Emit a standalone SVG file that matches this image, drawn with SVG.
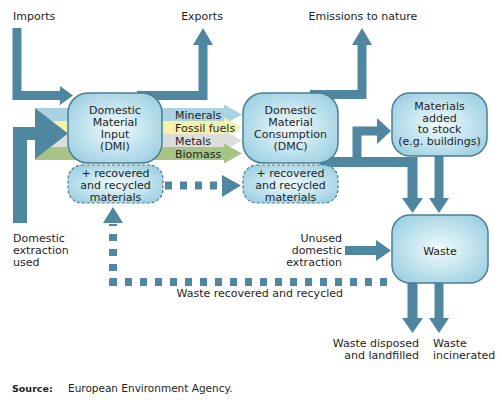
<svg xmlns="http://www.w3.org/2000/svg" width="502" height="400" viewBox="0 0 502 400">
<defs>
<radialGradient id="boxg" cx="50%" cy="50%" r="60%">
<stop offset="0" stop-color="#f2fafc"/>
<stop offset="0.55" stop-color="#c3e4ef"/>
<stop offset="1" stop-color="#9fd0e2"/>
</radialGradient>
<style>
text{font-family:"DejaVu Sans",Verdana,sans-serif;font-size:11px;fill:#1e1e1e}
.c{text-anchor:middle}
.r{text-anchor:end}
.box{fill:url(#boxg);stroke:#4a7d96;stroke-width:1.5}
.dbox{fill:url(#boxg);stroke:#4a7d96;stroke-width:1.2;stroke-dasharray:3 2}
.ar{fill:#4f87a1}
.dot{fill:none;stroke:#4f87a1;stroke-width:8;stroke-dasharray:7 8}
</style>
</defs>
<rect width="502" height="400" fill="#ffffff"/>

<g id="connectors">
<!-- material bands -->
<polygon points="35,108 224,108 224,104.5 242,114.5 224,124.5 224,121 35,121" fill="#a9d3e3"/>
<polygon points="35,121 224,121 224,117.5 242,127.5 224,137.5 224,134 35,134" fill="#f5f1a6"/>
<polygon points="35,134 224,134 224,130.5 242,140.5 224,150.5 224,147 35,147" fill="#dcdddd"/>
<polygon points="35,147 224,147 224,143.5 242,153.5 224,163.5 224,160 35,160" fill="#a8c484"/>
<!-- domestic extraction used -->
<path class="ar" d="M13,223 V127 H35 V108 L68,133.5 L35,159 V140 H27 V223 Z"/>
<!-- imports -->
<path class="ar" d="M12.5,28 H21.5 V91 H60 V86 L73,95.5 L60,105 V100 H12.5 Z"/>
<!-- exports -->
<path class="ar" d="M137,91 H198.5 V45 H193 L203,28 L213,45 H207.5 V100 H137 Z"/>
<!-- emissions -->
<path class="ar" d="M310,90 H357.5 V45 H352 L362,28 L372,45 H366.5 V99 H310 Z"/>
<!-- DMC to waste and stock -->
<path class="ar" d="M320,157 H352.5 V126.5 H377 V118 L391,131 L377,144 V135.5 H361.5 V157 H417.5 V198 H423 L412.5,213 L402,198 H407.5 V167 H320 Z"/>
<!-- stock to waste -->
<path class="ar" d="M434.5,150 H443.5 V198 H449 L439,213 L429,198 H434.5 Z"/>
<!-- unused domestic extraction -->
<path class="ar" d="M345,246 H376 V240 L391,250.5 L376,261 V255 H345 Z"/>
<!-- waste out -->
<path class="ar" d="M407.5,278 H417.5 V318 H423 L412.5,333 L402,318 H407.5 Z"/>
<path class="ar" d="M434.5,278 H443.5 V318 H449 L439,333 L429,318 H434.5 Z"/>
<!-- recycled dotted -->
<line class="dot" x1="165" y1="185.5" x2="223" y2="185.5"/>
<polygon class="ar" points="222,175 241,185.5 222,197"/>
<line class="dot" x1="110" y1="282" x2="395" y2="282"/>
<line class="dot" x1="113" y1="286" x2="113" y2="224"/>
<polygon class="ar" points="103,223 123,223 113,207"/>
</g>

<g id="dmi">
<rect class="box" x="68" y="93" width="94" height="70" rx="20"/>
<text class="c" x="115" y="114">Domestic</text>
<text class="c" x="115" y="126">Material</text>
<text class="c" x="115" y="138">Input</text>
<text class="c" x="115" y="150">(DMI)</text>
</g>
<g id="dmc">
<rect class="box" x="243" y="93" width="95" height="70" rx="20"/>
<text class="c" x="290.5" y="114">Domestic</text>
<text class="c" x="290.5" y="126">Material</text>
<text class="c" x="290.5" y="138">Consumption</text>
<text class="c" x="290.5" y="150">(DMC)</text>
</g>
<g id="stock">
<rect class="box" x="392" y="93" width="95" height="63" rx="18"/>
<text class="c" x="439.5" y="110">Materials</text>
<text class="c" x="439.5" y="121.5">added</text>
<text class="c" x="439.5" y="133">to stock</text>
<text class="c" x="439.5" y="144.5">(e.g. buildings)</text>
</g>
<g id="waste">
<rect class="box" x="392" y="215" width="96" height="68" rx="18"/>
<text class="c" x="440" y="255">Waste</text>
</g>
<g id="recycled-dmi">
<rect class="dbox" x="68" y="165" width="95" height="38" rx="14"/>
<text class="c" x="115.5" y="177">+ recovered</text>
<text class="c" x="115.5" y="189">and recycled</text>
<text class="c" x="115.5" y="200.5">materials</text>
</g>
<g id="recycled-dmc">
<rect class="dbox" x="243" y="165" width="95" height="38" rx="14"/>
<text class="c" x="290.5" y="177">+ recovered</text>
<text class="c" x="290.5" y="189">and recycled</text>
<text class="c" x="290.5" y="200.5">materials</text>
</g>

<g id="labels">
<text x="13" y="20">Imports</text>
<text class="c" x="202" y="20">Exports</text>
<text class="c" x="363" y="20">Emissions to nature</text>
<text x="175" y="119">Minerals</text>
<text x="175" y="132">Fossil fuels</text>
<text x="175" y="145">Metals</text>
<text x="175" y="158">Biomass</text>
<text x="13" y="242">Domestic</text>
<text x="13" y="254">extraction</text>
<text x="13" y="266">used</text>
<text class="r" x="342" y="242">Unused</text>
<text class="r" x="342" y="254">domestic</text>
<text class="r" x="342" y="266">extraction</text>
<text class="r" x="343" y="297">Waste recovered and recycled</text>
<text class="r" x="419" y="347">Waste disposed</text>
<text class="r" x="419" y="358.5">and landfilled</text>
<text x="433" y="347">Waste</text>
<text x="433" y="358.5">incinerated</text>
<text x="12" y="392" style="font-weight:bold;font-size:9.5px">Source:</text>
<text x="68" y="392" style="font-size:10.5px">European Environment Agency.</text>
</g>
</svg>
